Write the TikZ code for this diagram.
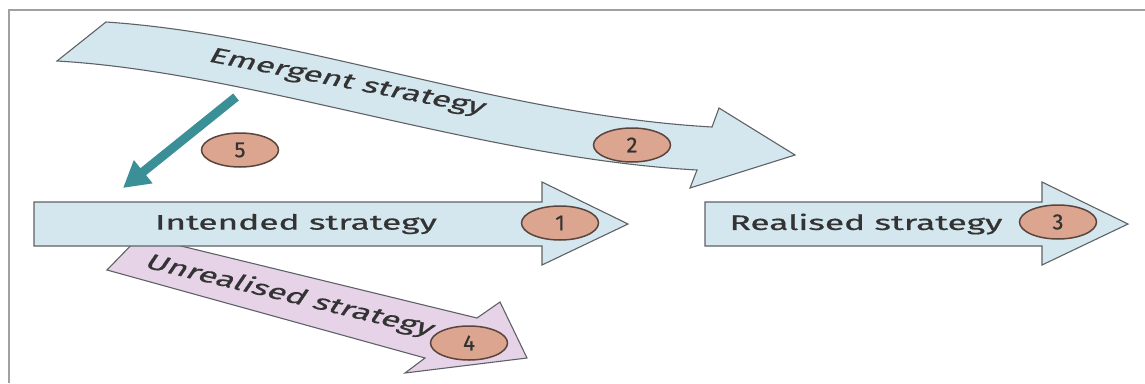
\documentclass[tikz,border=0pt]{standalone}
\usepackage{fontspec}
\setmainfont{Fira Sans}[FakeBold=0.5]
\usetikzlibrary{arrows.meta,shapes.geometric}
\definecolor{bluefill}{HTML}{D5E7EE}
\definecolor{pinkfill}{HTML}{E6D3E8}
\definecolor{circfill}{HTML}{DCA58F}
\definecolor{circline}{HTML}{5A443C}
\definecolor{outline}{HTML}{5E6266}
\definecolor{tealarrow}{HTML}{3A9096}
\definecolor{textcol}{HTML}{333333}
\definecolor{framecol}{HTML}{A0A0A0}
\begin{document}
\begin{tikzpicture}[x=1pt,y=-1pt,
  band/.style={draw=outline, line width=1.1pt, line join=miter},
  numcirc/.style={ellipse, draw=circline, line width=1.5pt, fill=circfill,
    minimum width=77pt, minimum height=34pt, inner sep=0pt,
    font=\fontsize{22}{22}\selectfont, text=textcol},
  lbl/.style={font=\fontsize{21}{21}\selectfont, text=textcol, xscale=1.68, inner sep=0pt},
  framestyle/.style={draw=framecol, line width=1.5pt},
  tealstyle/.style={draw=tealarrow, line width=9pt, line cap=butt,
    -{Triangle[length=26pt,width=28pt]}}
]
\useasboundingbox (0,0) rectangle (1145,383);
\fill[white] (0,0) rectangle (1145,383);
% frame
\draw[framestyle] (8,10) -- (1145,10);
\draw[framestyle] (9,10) -- (9,383);

% emergent strategy (curved band)
\draw[band, fill=bluefill] (57,61) -- (106,22)
  .. controls (300,35) and (500,115) .. (712,127)
  -- (719,108) -- (795,155) -- (690,188) -- (697,170)
  .. controls (480,158) and (250,72) .. (57,61) -- cycle;
\node[lbl, rotate=-18] (emtxt) at (347,83) {Emergent strategy};
\node[numcirc] (c2) at (632,145) {2};

% unrealised strategy
\draw[band, fill=pinkfill] (107,270) -- (140,236) -- (477,318) -- (500,302)
  -- (527,358) -- (405,373) -- (425,358) -- cycle;
\node[lbl, rotate=-22] (untxt) at (290,296) {Unrealised strategy};
\node[numcirc] (c4) at (469,343) {4};

% intended strategy
\draw[band, fill=bluefill] (34,202) -- (542,202) -- (542,182) -- (628,224)
  -- (542,265) -- (542,246) -- (34,246) -- cycle;
\node[lbl] (intxt) at (296,224) {Intended strategy};
\node[numcirc] (c1) at (560,223) {1};

% realised strategy
\draw[band, fill=bluefill] (705,202) -- (1042,202) -- (1042,182) -- (1128,224)
  -- (1042,265) -- (1042,246) -- (705,246) -- cycle;
\node[lbl] (retxt) at (866,224) {Realised strategy};
\node[numcirc] (c3) at (1058,222) {3};

% teal arrow (5)
\coordinate (tstart) at (236,97);
\coordinate (tend) at (123,188);
\draw[tealstyle] (tstart) -- (tend);
\node[numcirc] (c5) at (240,150) {5};
\end{tikzpicture}
\end{document}
